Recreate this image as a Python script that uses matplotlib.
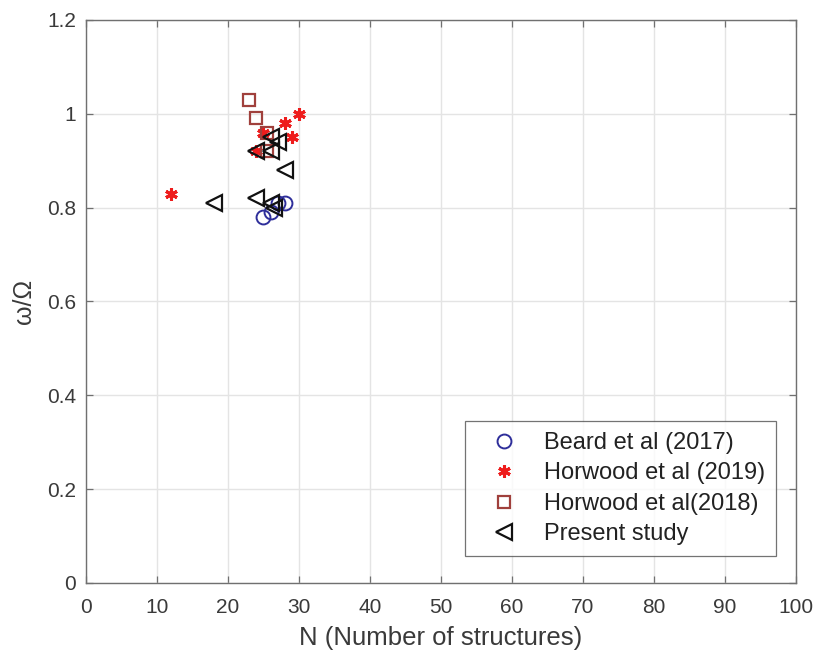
import matplotlib
matplotlib.use("Agg")
import matplotlib.pyplot as plt
from matplotlib.ticker import FixedLocator

plt.rcParams['font.family'] = ['Liberation Sans', 'DejaVu Sans']

beard_n = [25, 26, 27, 28]
beard_w = [0.78, 0.79, 0.81, 0.81]

horwood19_n = [12, 30, 28, 29, 25, 24]
horwood19_w = [0.83, 1.00, 0.98, 0.95, 0.96, 0.92]

horwood18_n = [23, 24, 25.5, 25.5]
horwood18_w = [1.03, 0.99, 0.96, 0.92]

present_n = [18, 24, 26, 26.5, 28, 24, 26, 27, 26]
present_w = [0.81, 0.82, 0.81, 0.80, 0.88, 0.92, 0.92, 0.94, 0.95]

x_ticks = list(range(0, 101, 10))
y_ticks = [0, 0.2, 0.4, 0.6, 0.8, 1.0, 1.2]
y_tick_labels = ['0', '0.2', '0.4', '0.6', '0.8', '1', '1.2']

fig = plt.figure(figsize=(8.15, 6.55), dpi=100)
ax = fig.add_axes([0.1055, 0.110, 0.871, 0.8595])

ax.plot(beard_n, beard_w, linestyle='none', marker='o', markersize=10,
        markerfacecolor='none', markeredgecolor='#2e2e9a', markeredgewidth=1.4,
        label='Beard et al (2017)')
ax.plot(horwood19_n, horwood19_w, linestyle='none', marker=(6, 2, 0), markersize=9,
        color='#ee1c1c', markeredgewidth=2.2, label='Horwood et al (2019)')
ax.plot(horwood18_n, horwood18_w, linestyle='none', marker='s', markersize=9,
        markerfacecolor='none', markeredgecolor='#a0403c', markeredgewidth=1.6,
        label='Horwood et al(2018)')
ax.plot(present_n, present_w, linestyle='none', marker='<', markersize=11,
        markerfacecolor='none', markeredgecolor='#111111', markeredgewidth=1.6,
        label='Present study')

ax.set_xlim(0, 100)
ax.set_ylim(0, 1.2)
ax.xaxis.set_major_locator(FixedLocator(x_ticks))
ax.set_yticks(y_ticks)
ax.set_yticklabels(y_tick_labels)

ax.grid(True, color='#e4e4e4', linewidth=1.0)
ax.set_axisbelow(True)
for s in ax.spines.values():
    s.set_color('#707070')
    s.set_linewidth(1.0)
ax.tick_params(direction='in', length=5, width=0.9, labelsize=15,
               color='#707070', labelcolor='#3a3a3a', top=True, right=True)
ax.tick_params(axis='x', pad=11)
ax.tick_params(axis='y', pad=7)

ax.set_xlabel('N (Number of structures)', fontsize=18.5, color='#3a3a3a', labelpad=6)
ax.set_ylabel('ω/Ω', fontsize=18, color='#3a3a3a', labelpad=8)

leg = ax.legend(loc='lower right', bbox_to_anchor=(0.972, 0.048), fontsize=17,
                frameon=True, fancybox=False, edgecolor='#505050',
                borderpad=0.45, handletextpad=0.5, labelspacing=0.36,
                borderaxespad=0.0, handlelength=2.4)
leg.get_frame().set_linewidth(0.9)
for t in leg.get_texts():
    t.set_color('#222222')

fig.savefig('out.png', dpi=100)
